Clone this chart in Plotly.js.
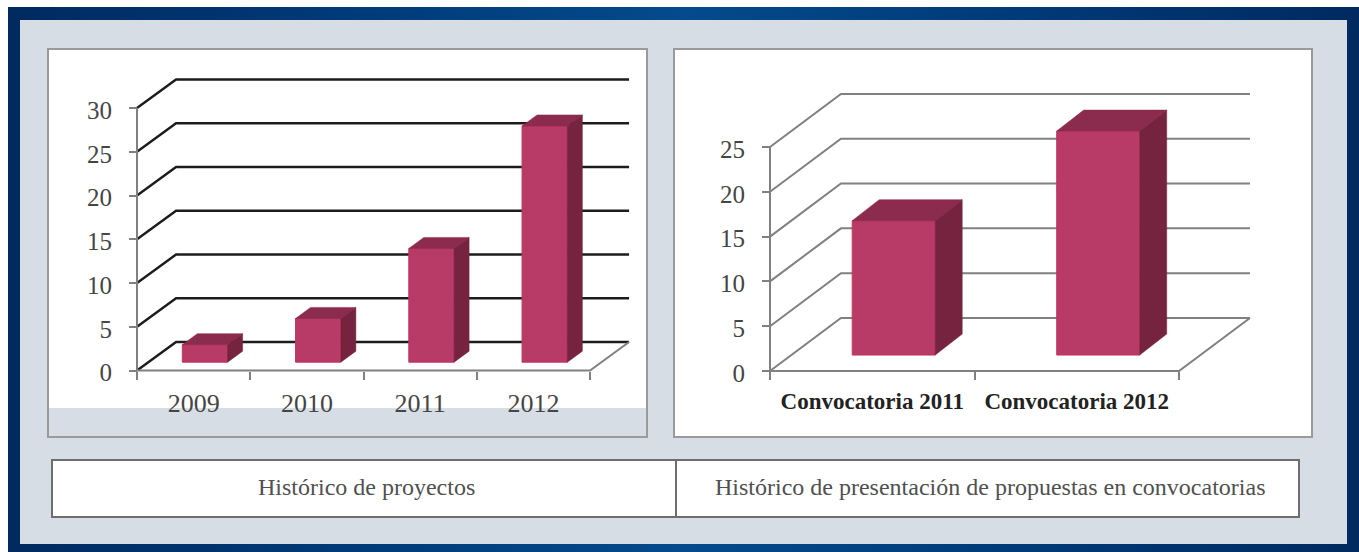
<!DOCTYPE html>
<html>
<head>
<meta charset="utf-8">
<script src="https://cdn.plot.ly/plotly-3.0.1.min.js"></script>
<style>
html,body{margin:0;padding:0;background:#fff;width:1359px;height:552px;overflow:hidden}
#frame{position:absolute;left:8px;top:7px;width:1351px;height:545px;background:linear-gradient(90deg,#002a60 0%,#003a78 25%,#044a8c 50%,#003a78 75%,#002a60 100%)}
#plot{position:absolute;left:0;top:0;width:1359px;height:552px}
</style>
</head>
<body>
<div id="frame"></div>
<div id="plot"></div>
<script>
// ---- data ----
const yearCategories = ['2009', '2010', '2011', '2012'];
const projectValues = [2, 5, 13, 27];
const projectTicks = [0, 5, 10, 15, 20, 25, 30];

const callCategories = ['Convocatoria 2011', 'Convocatoria 2012'];
const callValues = [15, 25];
const callTicks = [0, 5, 10, 15, 20, 25];

const captionLeft = 'Histórico de proyectos';
const captionRight = 'Histórico de presentación de propuestas en convocatorias';

// ---- styling ----
const W = 1359, H = 552;
const px = x => x / W, py = y => 1 - y / H;
const FRONT = '#b83a66', TOP = '#8b2b4d', SIDE = '#76233f', EDGE = '#c4345f', AXIS = '#808080';
const SERIF = '"Liberation Serif", serif';

function panelTraces(cfg) {
  const n = cfg.cats.length, lo = -0.5, hi = n - 0.5;
  const top = cfg.ticks[cfg.ticks.length - 1];
  const idx = cfg.cats.map((_, i) => i);
  const gx = [], gy = [];
  cfg.ticks.forEach(t => {
    gx.push(lo, lo + cfg.wx, hi + cfg.wx, null);
    gy.push(t, t + cfg.wy, t + cfg.wy, null);
  });
  const traces = [];
  traces.push({type: 'scatter', mode: 'lines', xaxis: cfg.xa, yaxis: cfg.ya, x: gx, y: gy,
    line: {color: cfg.grid, width: cfg.gridw}, showlegend: false, hoverinfo: 'skip'});
  // the gray frame of the chart: value axis, category axis, right floor edge
  traces.push({type: 'scatter', mode: 'lines', xaxis: cfg.xa, yaxis: cfg.ya,
    x: [lo, lo, hi, hi + cfg.wx], y: [top, 0, 0, cfg.wy],
    line: {color: AXIS, width: 2}, showlegend: false, hoverinfo: 'skip'});
  traces.push({type: 'bar', xaxis: cfg.xb, yaxis: cfg.ya, x: idx, y: cfg.vals, base: cfg.base,
    offset: cfg.off, width: cfg.bw,
    marker: {color: FRONT, line: {color: EDGE, width: 1}}, showlegend: false, hoverinfo: 'skip'});
  const tx = [], ty = [], sx = [], sy = [];
  idx.forEach(i => {
    const l = i + cfg.off, r = l + cfg.bw, b = cfg.base, t = cfg.base + cfg.vals[i];
    tx.push(l, r, r + cfg.fx, l + cfg.fx, l, null);
    ty.push(t, t, t + cfg.fy, t + cfg.fy, t, null);
    sx.push(r, r + cfg.fx, r + cfg.fx, r, r, null);
    sy.push(b, b + cfg.fy, t + cfg.fy, t, b, null);
  });
  traces.push({type: 'scatter', mode: 'lines', xaxis: cfg.xb, yaxis: cfg.ya, x: tx, y: ty, fill: 'toself', fillcolor: TOP,
    line: {color: TOP, width: 0.5}, showlegend: false, hoverinfo: 'skip'});
  traces.push({type: 'scatter', mode: 'lines', xaxis: cfg.xb, yaxis: cfg.ya, x: sx, y: sy, fill: 'toself', fillcolor: SIDE,
    line: {color: SIDE, width: 0.5}, showlegend: false, hoverinfo: 'skip'});
  return traces;
}

// pixel frames: x0/x1 = ends of the front category axis, y0/y1 = pixel rows of value 0 and of the top tick
const left = {cats: yearCategories, vals: projectValues, ticks: projectTicks,
  xa: 'x', xb: 'x3', ya: 'y', wx: 0.345, wy: 3.26, fx: 0.1325, fy: 1.26, base: 0.95, off: -0.10, bw: 0.40,
  grid: '#1c1c1c', gridw: 2.4, x0: 137, x1: 590, y0: 370.5, y1: 108, dl: 131, dr: 640, dt: 70, db: 378};
const right = {cats: callCategories, vals: callValues, ticks: callTicks,
  xa: 'x2', xb: 'x4', ya: 'y2', wx: 0.347, wy: 5.92, fx: 0.132, fy: 2.34, base: 1.78, off: -0.098, bw: 0.406,
  grid: '#808080', gridw: 2, x0: 770, x1: 1179, y0: 371, y1: 147, dl: 764, dr: 1262, dt: 85, db: 378};

const data = panelTraces(left).concat(panelTraces(right));

function xRange(cfg) {
  const n = cfg.cats.length, u = (cfg.x1 - cfg.x0) / n;
  return [-0.5 - (cfg.x0 - cfg.dl) / u, n - 0.5 + (cfg.dr - cfg.x1) / u];
}
function yRange(cfg) {
  const top = cfg.ticks[cfg.ticks.length - 1], u = (cfg.y0 - cfg.y1) / top;
  return [-(cfg.db - cfg.y0) / u, (cfg.y0 - cfg.dt) / u];
}
function baseX(cfg) {
  const n = cfg.cats.length;
  const b = []; for (let i = 0; i <= n; i++) b.push(i - 0.5);
  return {domain: [px(cfg.dl), px(cfg.dr)], range: xRange(cfg), anchor: 'free', position: py(cfg.y0), type: 'linear', tickmode: 'array',
    tickvals: b, ticktext: b.map(() => ''), ticks: 'outside', ticklen: 8, tickwidth: 2, tickcolor: AXIS,
    showline: false, showgrid: false, zeroline: false, fixedrange: true};
}
function labelX(cfg, over, font, standoff) {
  return {overlaying: over, anchor: 'free', position: py(cfg.y0), range: xRange(cfg), type: 'linear', tickmode: 'array',
    tickvals: cfg.cats.map((_, i) => i), ticktext: cfg.cats, ticks: '', showline: false, showgrid: false,
    zeroline: false, tickfont: font, ticklabelstandoff: standoff, fixedrange: true};
}
function valueY(cfg, font) {
  return {domain: [py(cfg.db), py(cfg.dt)], range: yRange(cfg), anchor: 'free', position: px(cfg.x0), type: 'linear', tickmode: 'array', tickvals: cfg.ticks,
    ticks: 'outside', ticklen: 8, tickwidth: 2, tickcolor: AXIS, showline: false,
    showgrid: false, zeroline: false, tickfont: font, ticklabelstandoff: 12, ticklabelshift: 2, fixedrange: true};
}

const numFont = {family: SERIF, size: 25, color: '#454545'};
const yearFont = {family: SERIF, size: 26, color: '#454545'};
const rect = (x0, y0, x1, y1, fill, line, lw) => ({type: 'rect', xref: 'paper', yref: 'paper', layer: 'below',
  x0: px(x0), x1: px(x1), y0: py(y1), y1: py(y0), fillcolor: fill, line: {color: line || fill, width: lw === undefined ? 0 : lw}});
const caption = (x, text) => ({xref: 'paper', yref: 'paper', x: px(x), y: py(487), xanchor: 'center', yanchor: 'middle', text,
  showarrow: false, font: {family: SERIF, size: 24, color: '#505050'}});

const layout = {
  width: W, height: H, margin: {l: 0, r: 0, t: 0, b: 0}, paper_bgcolor: 'rgba(0,0,0,0)', plot_bgcolor: 'rgba(0,0,0,0)',
  showlegend: false, hovermode: false, bargap: 0,
  xaxis: baseX(left),
  yaxis: valueY(left, numFont),
  xaxis3: labelX(left, 'x', yearFont, 14),
  xaxis2: baseX(right),
  yaxis2: valueY(right, numFont),
  xaxis4: labelX(right, 'x2', {family: SERIF, size: 23, color: '#222222', weight: 700}, 14),
  shapes: [
    rect(20, 20, 1347, 544, '#d6dde4'),
    rect(48, 49, 647, 437, '#ffffff', '#9a9a9a', 2),
    rect(49, 408, 646, 436, '#d6dde4'),
    rect(674, 49, 1312, 437, '#ffffff', '#9a9a9a', 2),
    rect(52, 460, 676, 517, '#ffffff', '#6e6e6e', 2),
    rect(676, 460, 1299, 517, '#ffffff', '#6e6e6e', 2)
  ],
  annotations: [caption(367, captionLeft), caption(990, captionRight)]
};

Plotly.newPlot('plot', data, layout, {displayModeBar: false, staticPlot: true});
</script>
</body>
</html>
